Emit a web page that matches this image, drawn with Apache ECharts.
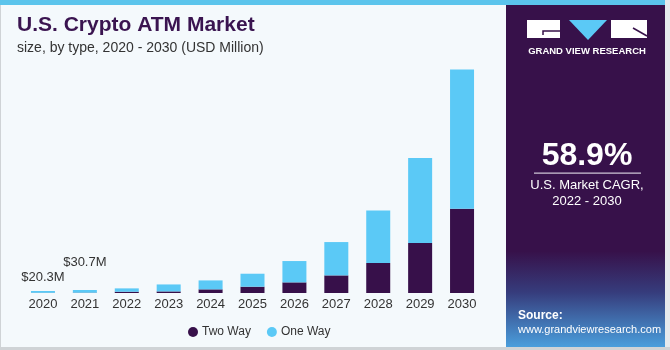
<!DOCTYPE html>
<html>
<head>
<meta charset="utf-8">
<script src="https://cdn.jsdelivr.net/npm/echarts@6/dist/echarts.min.js"></script>
<style>
  html, body { margin: 0; padding: 0; background: #f4f9fc; }
  #chart { width: 670px; height: 350px; }
</style>
</head>
<body>
<div id="chart"></div>
<script>
// values in USD million
const years = ['2020', '2021', '2022', '2023', '2024', '2025', '2026', '2027', '2028', '2029', '2030']
const twoWay = [2, 3, 13, 16, 37, 64, 108, 179, 305, 508, 856]
const oneWay = [18.3, 27.7, 34, 71, 91, 132, 217, 339, 533, 865, 1416]
const topLabels = ['$20.3M', '$30.7M']

const purple = '#37104a'
const sky = '#5bc9f6'
const font = '"Liberation Sans", Arial, sans-serif'

const chart = echarts.init(document.getElementById('chart'))

const oneWayData = oneWay.map((v, i) => {
  if (i >= topLabels.length) return v
  return {
    value: v,
    label: {
      show: true, position: 'top', formatter: topLabels[i],
      distance: i === 0 ? 7 : 21,
      color: '#333', fontSize: 13, fontFamily: font,
    },
  }
})

chart.setOption({
  animation: false,
  backgroundColor: '#f4f9fc',
  grid: { left: 22, right: 187, top: 57, bottom: 57 },
  xAxis: {
    type: 'category', data: years,
    axisLine: { show: false }, axisTick: { show: false },
    axisLabel: { color: '#333', fontSize: 13, fontFamily: font, margin: 5 },
  },
  yAxis: { type: 'value', min: 0, max: 2400, show: false, splitLine: { show: false } },
  legend: {
    left: 183, top: 321,
    itemWidth: 10, itemHeight: 10, itemGap: 16, icon: 'circle',
    textStyle: { color: '#333', fontSize: 12, fontFamily: font, padding: [0, 0, 0, -1] },
    data: ['Two Way', 'One Way'],
  },
  series: [
    {
      name: 'Two Way', type: 'bar', stack: 'all', data: twoWay,
      barWidth: 24, itemStyle: { color: purple },
    },
    {
      name: 'One Way', type: 'bar', stack: 'all', data: oneWayData,
      barWidth: 24, itemStyle: { color: sky },
    },
  ],
  graphic: [
    // frame
    { type: 'rect', shape: { x: 0, y: 0, width: 1, height: 350 }, style: { fill: '#cfd3d6' }, z: 0 },
    { type: 'rect', shape: { x: 665, y: 0, width: 5, height: 350 }, style: { fill: '#e6eaed' }, z: 0 },
    { type: 'rect', shape: { x: 0, y: 347, width: 670, height: 3 }, style: { fill: '#cfd3d6' }, z: 0 },
    { type: 'rect', shape: { x: 0, y: 0, width: 665, height: 5 }, style: { fill: '#5bc4ec' }, z: 10 },
    // titles
    {
      type: 'text', left: 17, top: 15,
      style: { text: 'U.S. Crypto ATM Market', fill: '#3a1450', font: 'bold 21px ' + font },
    },
    {
      type: 'text', left: 17, top: 41,
      style: { text: 'size, by type, 2020 - 2030 (USD Million)', fill: '#333', font: '14px ' + font },
    },
    // right panel
    {
      type: 'rect', shape: { x: 506, y: 5, width: 159, height: 342 }, z: 1,
      style: {
        fill: new echarts.graphic.LinearGradient(0, 0, 0, 1, [
          { offset: 0, color: '#37114a' },
          { offset: 0.72, color: '#37114a' },
          { offset: 0.84, color: '#363c7c' },
          { offset: 1, color: '#4a9edc' },
        ]),
      },
    },
    // logo
    { type: 'rect', shape: { x: 527, y: 20, width: 33, height: 18 }, style: { fill: '#fff' }, z: 5 },
    { type: 'polyline', shape: { points: [[560, 31], [543, 31], [543, 35]] }, style: { stroke: '#37114a', lineWidth: 1.5, fill: null }, z: 6 },
    { type: 'polygon', shape: { points: [[569, 20], [607, 20], [588, 40]] }, style: { fill: sky }, z: 5 },
    { type: 'rect', shape: { x: 611, y: 20, width: 36, height: 18 }, style: { fill: '#fff' }, z: 5 },
    { type: 'line', shape: { x1: 633, y1: 28, x2: 647, y2: 36 }, style: { stroke: '#37114a', lineWidth: 1.5 }, z: 6 },
    {
      type: 'text', x: 587, y: 51, z: 5,
      style: { text: 'GRAND VIEW RESEARCH', fill: '#fff', font: 'bold 9.5px ' + font, align: 'center', verticalAlign: 'middle' },
    },
    // CAGR
    {
      type: 'text', x: 587, y: 156, z: 5,
      style: { text: '58.9%', fill: '#fff', font: 'bold 32px ' + font, align: 'center', verticalAlign: 'middle' },
    },
    { type: 'rect', shape: { x: 534, y: 172.5, width: 107, height: 1.2 }, style: { fill: '#cfc6d6' }, z: 5 },
    {
      type: 'text', x: 587, y: 185, z: 5,
      style: { text: 'U.S. Market CAGR,', fill: '#fff', font: '13px ' + font, align: 'center', verticalAlign: 'middle' },
    },
    {
      type: 'text', x: 587, y: 201, z: 5,
      style: { text: '2022 - 2030', fill: '#fff', font: '13px ' + font, align: 'center', verticalAlign: 'middle' },
    },
    // source
    {
      type: 'text', x: 518, y: 316, z: 5,
      style: { text: 'Source:', fill: '#fff', font: 'bold 12px ' + font, verticalAlign: 'middle' },
    },
    {
      type: 'text', x: 518, y: 330, z: 5,
      style: { text: 'www.grandviewresearch.com', fill: '#fff', font: '11px ' + font, verticalAlign: 'middle' },
    },
  ],
})
</script>
</body>
</html>
